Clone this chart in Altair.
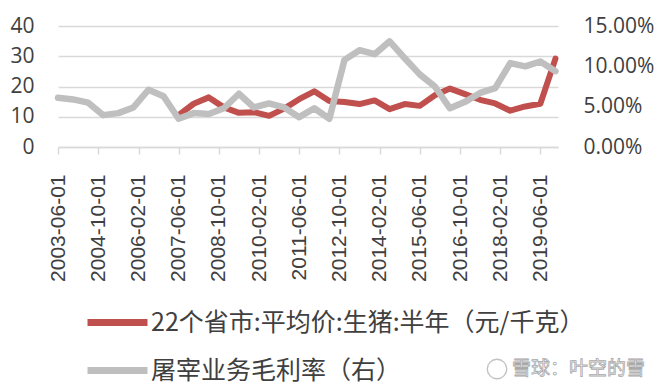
import altair as alt
import pandas as pd

dates = [
    "2003-06-01", "2003-12-01", "2004-06-01", "2004-12-01", "2005-06-01", "2005-12-01",
    "2006-06-01", "2006-12-01", "2007-06-01", "2007-12-01", "2008-06-01", "2008-12-01",
    "2009-06-01", "2009-12-01", "2010-06-01", "2010-12-01", "2011-06-01", "2011-12-01",
    "2012-06-01", "2012-12-01", "2013-06-01", "2013-12-01", "2014-06-01", "2014-12-01",
    "2015-06-01", "2015-12-01", "2016-06-01", "2016-12-01", "2017-06-01", "2017-12-01",
    "2018-06-01", "2018-12-01", "2019-06-01", "2019-12-01",
]
# 22个省市:平均价:生猪 (元/千克), starts 2007-06
hog_price = [None] * 8 + [
    10.5, 14.3, 16.4, 13.1, 11.3, 11.5, 10.3, 12.7, 15.8, 18.4,
    15.2, 14.9, 14.2, 15.4, 12.5, 14.2, 13.6, 17.1, 19.3, 17.5,
    15.6, 14.4, 12.0, 13.4, 14.3, 29.2,
]
# 屠宰业务毛利率 (%)
slaughter_margin_pct = [
    6.1, 5.9, 5.5, 3.95, 4.2, 4.9, 7.1, 6.3, 3.5, 4.2,
    4.1, 4.8, 6.6, 4.9, 5.4, 4.9, 3.7, 4.8, 3.5, 10.8,
    12.0, 11.5, 13.1, 11.0, 9.0, 7.5, 4.8, 5.6, 6.7, 7.3,
    10.4, 10.0, 10.6, 9.4,
]
x_tick_dates = [
    (2003, 6), (2004, 10), (2006, 2), (2007, 6), (2008, 10), (2010, 2), (2011, 6),
    (2012, 10), (2014, 2), (2015, 6), (2016, 10), (2018, 2), (2019, 6),
]
left_ticks = [0, 10, 20, 30, 40]
right_ticks = [0, 0.05, 0.10, 0.15]
series_names = ["22个省市:平均价:生猪:半年（元/千克）", "屠宰业务毛利率（右）"]
series_colors = ["#C0504D", "#BFBFBF"]
watermark = "雪球：叶空的雪"

df = pd.DataFrame({
    "date": dates,
    "price": hog_price,
    "margin": [v / 100 for v in slaughter_margin_pct],
})

def dt(y, m):
    return alt.DateTime(year=y, month=m, date=1, utc=True)

x_enc = alt.X(
    "date:T",
    scale=alt.Scale(type="utc", domain=[dt(2003, 6), dt(2020, 1)]),
    axis=alt.Axis(
        title=None,
        values=[dt(y, m) for y, m in x_tick_dates],
        labelExpr="utcFormat(datum.value, '%Y-%m-%d')",
        labelAngle=270,
        labelAlign="right",
        labelBaseline="middle",
        labelFont="Liberation Sans",
        labelFontSize=21,
        labelColor="#404040",
        labelPadding=20,
        grid=False,
        domainColor="#D9D9D9",
        domainWidth=1.5,
        tickColor="#D9D9D9",
        tickWidth=1.5,
        tickSize=7,
    ),
)

color_enc = alt.Color(
    "series:N",
    scale=alt.Scale(domain=series_names, range=series_colors),
    legend=alt.Legend(
        title=None,
        orient="none",
        direction="vertical",
        legendX=26,
        legendY=263,
        symbolType="stroke",
        symbolSize=3600,
        symbolStrokeWidth=7,
        labelFont="Noto Sans CJK SC",
        labelFontSize=25,
        labelColor="#404040",
        labelLimit=600,
        labelOffset=0,
        rowPadding=0,
    ),
)

base = alt.Chart(df).encode(x=x_enc)

red = base.transform_filter("isValid(datum.price)").transform_calculate(
    series="'" + series_names[0] + "'"
).mark_line(strokeWidth=6, strokeJoin="round", strokeCap="round").encode(
    y=alt.Y(
        "price:Q",
        scale=alt.Scale(domain=[0, 40]),
        axis=alt.Axis(
            title=None, orient="left", values=left_ticks,
            labelFont="Open Sans", labelFontSize=21, labelColor="#404040",
            labelPadding=24, ticks=False, tickSize=0, domain=False,
            grid=True, gridColor="#D9D9D9", gridWidth=1.5,
        ),
    ),
    color=color_enc,
)

gray = base.transform_calculate(
    series="'" + series_names[1] + "'"
).mark_line(strokeWidth=6.5, strokeJoin="round", strokeCap="round").encode(
    y=alt.Y(
        "margin:Q",
        scale=alt.Scale(domain=[0, 0.15]),
        axis=alt.Axis(
            title=None, orient="right", values=right_ticks, format=".2%",
            labelFont="Open Sans", labelFontSize=21, labelColor="#404040",
            labelPadding=25, ticks=False, tickSize=0, domain=False, grid=False,
        ),
    ),
    color=color_enc,
)

wm_text = alt.Chart(pd.DataFrame({"t": [watermark]})).mark_text(
    align="left", baseline="middle", font="Noto Sans CJK SC", fontSize=19,
    fill="#FFFFFF", stroke="#A8A8A8", strokeWidth=0.8,
).encode(text="t:N", x=alt.value(454), y=alt.value(343))

wm_logo = alt.Chart(pd.DataFrame({"t": [watermark]})).mark_point(
    shape="circle", size=380, filled=False, stroke="#A8A8A8", strokeWidth=1.3,
).encode(x=alt.value(439), y=alt.value(343))

chart = alt.layer(red, gray, wm_logo, wm_text).resolve_scale(y="independent").properties(
    width=500,
    height=121,
    autosize=alt.AutoSizeParams(type="none"),
    padding={"left": 50, "top": 18, "right": 100, "bottom": 235},
).configure_view(stroke=None)

chart.save("out.html", embed_options={"renderer": "svg", "actions": False})
